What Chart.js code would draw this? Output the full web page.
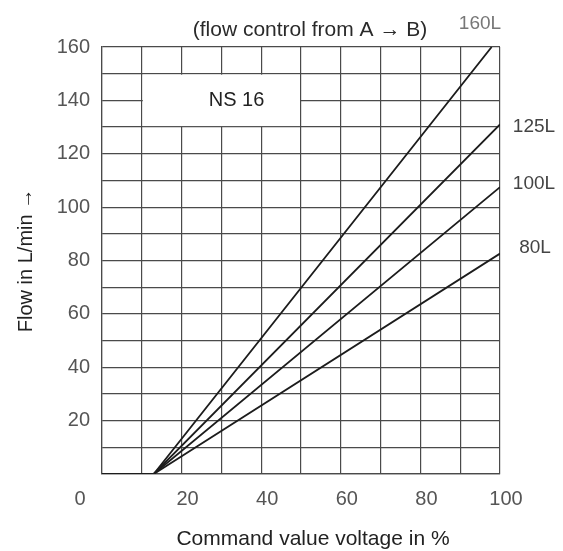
<!DOCTYPE html>
<html><head><meta charset="utf-8">
<script src="https://cdn.jsdelivr.net/npm/chart.js@4.4.1/dist/chart.umd.min.js"></script>
<style>html,body{margin:0;padding:0;background:#fff}#wrap{width:563px;height:551px;position:relative}</style>
</head><body><div id="wrap"><canvas id="c"></canvas></div>
<script>
// ---- data ----
const seriesNames = ['160L', '125L', '100L', '80L'];
const x160 = [0, 13, 97.9];  const y160 = [0, 0, 160];
const x125 = [0, 13, 100];   const y125 = [0, 0, 131];
const x100 = [0, 13, 100];   const y100 = [0, 0, 107.5];
const x80  = [0, 13, 100];   const y80  = [0, 0, 82.6];
const xTickLabels = [20, 40, 60, 80, 100];
const yTickLabels = [20, 40, 60, 80, 100, 120, 140, 160];
const chartTitle = '(flow control from A \u2192 B)';
const xTitle = 'Command value voltage in %';
const yTitle = 'Flow in L/min \u2192';
const boxText = 'NS 16';

const FONT = '"Liberation Sans", Arial, Helvetica, sans-serif';
const GRID = '#4a4a4a';
const LINE = '#1c1c1c';

function pts(xs, ys) { return xs.map((v, i) => ({x: v, y: ys[i]})); }
const seriesData = [pts(x160, y160), pts(x125, y125), pts(x100, y100), pts(x80, y80)];

const annot = {
  id: 'annot',
  beforeDatasetsDraw(chart) {
    const {ctx, scales: {x, y}} = chart;
    const l = x.getPixelForValue(10), r = x.getPixelForValue(50);
    const t = y.getPixelForValue(150), b = y.getPixelForValue(130);
    ctx.save();
    ctx.fillStyle = '#fff';
    ctx.fillRect(l + 1, t + 1, r - l - 2, b - t - 2);
    ctx.fillStyle = '#222';
    ctx.font = '20px ' + FONT;
    ctx.textAlign = 'center';
    ctx.textBaseline = 'middle';
    ctx.fillText(boxText, x.getPixelForValue(33.8), y.getPixelForValue(140));
    ctx.restore();
  },
  afterDraw(chart) {
    const {ctx, chartArea, scales: {x, y}} = chart;
    ctx.save();
    ctx.textAlign = 'center';
    ctx.textBaseline = 'middle';
    // top caption
    ctx.fillStyle = '#2a2a2a';
    ctx.font = '21px ' + FONT;
    ctx.fillText(chartTitle, 310, 30);
    // x axis title
    ctx.fillStyle = '#222';
    ctx.fillText(xTitle, (chartArea.left + chartArea.right) / 2 + 12, 539);
    // series end labels
    ctx.font = '19px ' + FONT;
    ctx.fillStyle = '#777';
    ctx.fillText(seriesNames[0], 480, 24);
    ctx.fillStyle = '#444';
    ctx.fillText(seriesNames[1], chartArea.right + 34, y.getPixelForValue(y125[2]) + 2);
    ctx.fillText(seriesNames[2], chartArea.right + 34, y.getPixelForValue(y100[2]) - 3);
    ctx.fillText(seriesNames[3], chartArea.right + 35, y.getPixelForValue(y80[2]) - 6);
    // origin label
    ctx.fillStyle = '#555';
    ctx.font = '20px ' + FONT;
    ctx.fillText('0', x.getPixelForValue(0) - 22, 499);
    ctx.restore();
  }
};

new Chart(document.getElementById('c'), {
  type: 'line',
  data: {
    datasets: seriesData.map((d, i) => ({
      label: seriesNames[i],
      data: d,
      borderColor: LINE,
      borderWidth: 1.8,
      pointRadius: 0,
      tension: 0,
      fill: false
    }))
  },
  options: {
    responsive: true,
    maintainAspectRatio: false,
    animation: false,
    layout: {padding: {top: 47, right: 63, left: 0, bottom: 0}},
    plugins: {legend: {display: false}, tooltip: {enabled: false}, title: {display: false}},
    scales: {
      x: {
        type: 'linear', position: 'bottom', min: 0, max: 100,
        afterFit(s) { s.height = 77; },
        grid: {color: GRID, lineWidth: 1.2, drawTicks: false},
        border: {display: true, color: GRID, width: 1.2},
        ticks: {
          stepSize: 10, padding: 13, labelOffset: 6, maxRotation: 0, autoSkip: false,
          color: '#555', font: {family: FONT, size: 20},
          callback: v => xTickLabels.includes(v) ? String(v) : ''
        },
        title: {display: false, text: xTitle}
      },
      y: {
        type: 'linear', min: 0, max: 160,
        afterFit(s) { s.width = 102; },
        grid: {color: GRID, lineWidth: 1.2, drawTicks: false},
        border: {display: true, color: GRID, width: 1.2},
        ticks: {
          stepSize: 10, padding: 12, autoSkip: false,
          color: '#555', font: {family: FONT, size: 20},
          callback: v => yTickLabels.includes(v) ? String(v) : ''
        },
        title: {display: true, text: yTitle, color: '#222',
          font: {family: FONT, size: 20, lineHeight: 1}, padding: {top: 16, bottom: 0}}
      }
    }
  },
  plugins: [annot]
});
</script>
</body></html>
